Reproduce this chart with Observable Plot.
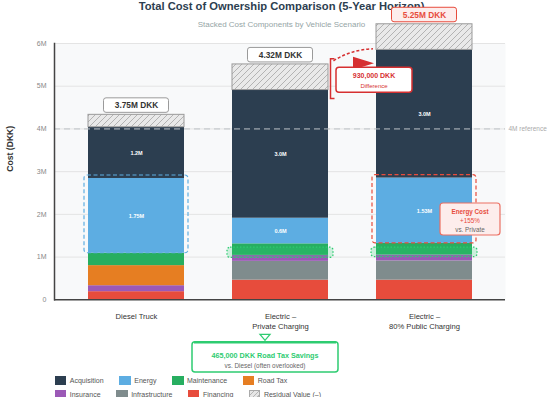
<!DOCTYPE html>
<html><head><meta charset="utf-8">
<script src="https://cdn.jsdelivr.net/npm/d3@7"></script>
<script src="https://cdn.jsdelivr.net/npm/@observablehq/plot@0.6"></script>
<style>
body{margin:0;background:#fff;font-family:"Liberation Sans",Arial,sans-serif;}
#wrap{position:relative;width:550px;height:397px;overflow:hidden;}
#title{position:absolute;left:0;top:0;width:563px;text-align:center;font-weight:bold;font-size:11.2px;line-height:13px;color:#2c3e50;}
#subtitle{position:absolute;left:0;top:19.7px;width:563px;text-align:center;font-size:8px;line-height:10px;color:#95a5a6;}
#chart{position:absolute;left:0;top:0;}
.lrow{position:absolute;left:54.7px;display:flex;column-gap:15.5px;font-size:7px;color:#555;}
.item{display:flex;align-items:center;height:9px;line-height:9px;}
.sw{width:11.6px;height:8.8px;margin-right:3.5px;box-sizing:border-box;}
</style></head>
<body>
<div id="wrap">
  <div id="title">Total Cost of Ownership Comparison (5-Year Horizon)</div>
  <div id="subtitle">Stacked Cost Components by Vehicle Scenario</div>
  <div id="chart"></div>
  <div class="lrow" id="row1" style="top:376.1px"></div>
  <div class="lrow" id="row2" style="top:390.2px"></div>
</div>
<script>
// ---- data ----
const scenarios = ["Diesel Truck", "Electric –\nPrivate Charging", "Electric –\n80% Public Charging"];
const components = ["Financing", "Infrastructure", "Insurance", "Road Tax", "Maintenance", "Energy", "Acquisition"];
const colors = ["#e74c3c", "#7f8c8d", "#9b59b6", "#e67e22", "#27ae60", "#5dade2", "#2c3e50"];
const financing = [0.19, 0.46, 0.46];
const infrastructure = [0, 0.44, 0.45];
const insurance = [0.14, 0.14, 0.14];
const roadTax = [0.47, 0, 0];
const maintenance = [0.29, 0.27, 0.27];
const energy = [1.75, 0.6, 1.53];
const acquisition = [1.2, 3.0, 3.0];
const residual = [0.29, 0.6, 0.6];
const energyLabels = ["1.75M", "0.6M", "1.53M"];
const acquisitionLabels = ["1.2M", "3.0M", "3.0M"];
const netLabels = ["3.75M DKK", "4.32M DKK", "5.25M DKK"];
const yTicks = [0, 1, 2, 3, 4, 5, 6];
const referenceLine = [4];
const roadTaxBoxLow = [null, 0.98, 1.0];
const roadTaxBoxHigh = [null, 1.22, 1.22];
const diffBracket = [4.70, 5.63];
const diffCalloutY = 5.14;
const energyCalloutY = 1.88;
const legendRow1 = ["Acquisition", "Energy", "Maintenance", "Road Tax"];
const legendRow2 = ["Insurance", "Infrastructure", "Financing", "Residual Value (–)"];

// ---- derived tables ----
const series = [financing, infrastructure, insurance, roadTax, maintenance, energy, acquisition];
const labelsBy = {Energy: energyLabels, Acquisition: acquisitionLabels};
const stacked = [];
scenarios.forEach((s, i) => components.forEach((c, j) =>
  stacked.push({scenario: s, component: c, value: series[j][i], label: (labelsBy[c] || [])[i] || ""})));
const gross = scenarios.map((s, i) => d3.sum(series, a => a[i]));
const totals = scenarios.map((s, i) => ({scenario: s, gross: gross[i], top: gross[i] + residual[i], text: netLabels[i]}));
const eBase = scenarios.map((s, i) => financing[i] + infrastructure[i] + insurance[i] + roadTax[i] + maintenance[i]);
const energyBox = scenarios.map((s, i) => ({scenario: s, y1: eBase[i], y2: eBase[i] + energy[i]}));
const roadBox = scenarios.map((s, i) => ({scenario: s, y1: roadTaxBoxLow[i], y2: roadTaxBoxHigh[i]})).filter(d => d.y1 != null);

const FONT = "'Liberation Sans', Arial, sans-serif";
const chart = Plot.plot({
  width: 550, height: 397,
  marginTop: 43, marginBottom: 97.7, marginLeft: 54, marginRight: 45,
  style: {background: "transparent", fontFamily: FONT, overflow: "visible"},
  x: {domain: scenarios, paddingInner: 0.3356, paddingOuter: 0.228, axis: null},
  y: {domain: [0, 6]},
  color: {domain: components, range: colors},
  marks: [
    Plot.frame({fill: "#f8f9fa", stroke: "none"}),
    Plot.gridY(yTicks.slice(1), {stroke: "#e4e4e4", strokeOpacity: 1}),
    Plot.axisY(yTicks, {tickSize: 0, tickPadding: 8, tickFormat: d => d === 0 ? "0" : d + "M", fontSize: 7, color: "#888", label: null}),
    Plot.text(["Cost (DKK)"], {text: d => d, frameAnchor: "left", dx: -44, rotate: -90, fontWeight: "bold", fontSize: 8.6, fill: "#333"}),
    Plot.barY(stacked, {x: "scenario", y: "value", fill: "component", order: components}),
    Plot.barY(totals, {x: "scenario", y1: "gross", y2: "top", fill: "url(#hatch)", stroke: "#9a9a9a", strokeWidth: 1}),
    Plot.text(stacked, Plot.stackY({x: "scenario", y: "value", z: "component", order: components, text: "label", fill: "white", fontSize: 5.5, fontWeight: "bold"})),
    Plot.barY(energyBox.filter((d, i) => i === 0), {x: "scenario", y1: "y1", y2: "y2", fill: "none", stroke: "#5dade2", strokeWidth: 1.2, strokeDasharray: "4,2.5", rx: 3, insetLeft: -4, insetRight: -4, insetTop: -3}),
    Plot.barY(energyBox.filter((d, i) => i === 2), {x: "scenario", y1: "y1", y2: "y2", fill: "none", stroke: "#e74c3c", strokeWidth: 1.2, strokeDasharray: "4,2.5", rx: 3, insetLeft: -4, insetRight: -4, insetTop: -3}),
    Plot.barY(roadBox, {x: "scenario", y1: "y1", y2: "y2", fill: "rgba(46,204,113,0.22)", stroke: "#2ecc71", strokeWidth: 1.3, strokeDasharray: "1.5,1.8", rx: 3, insetLeft: -5, insetRight: -5}),
    Plot.ruleY(referenceLine, {stroke: "#bdc3c7", strokeWidth: 1, strokeDasharray: "6,4"}),
    Plot.text(referenceLine, {y: d => d, text: d => `${d}M reference`, frameAnchor: "right", textAnchor: "start", dx: 3, fontSize: 6.5, fill: "#aaa"}),
    Plot.ruleY([0], {stroke: "#444", strokeWidth: 1.5}),
    Plot.frame({anchor: "left", stroke: "#444", strokeWidth: 1.5}),
    Plot.text(scenarios, {x: d => d, text: d => d, frameAnchor: "bottom", lineAnchor: "top", dy: 12, fontSize: 7.6, lineHeight: 1.34, fill: "#333"}),
    Plot.barY(totals.filter((d, i) => i < 2), {x: "scenario", y1: "top", y2: "top", insetTop: -16.5, insetBottom: 2, insetLeft: 15.5, insetRight: 15.5, fill: "white", stroke: "#9a9a9a", strokeWidth: 1, rx: 2.5}),
    Plot.barY(totals.filter((d, i) => i === 2), {x: "scenario", y1: "top", y2: "top", insetTop: -16.5, insetBottom: 2, insetLeft: 15.5, insetRight: 15.5, fill: "#fdedec", stroke: "#e74c3c", strokeWidth: 1, rx: 2.5}),
    Plot.text(totals.filter((d, i) => i < 2), {x: "scenario", y: "top", text: "text", dy: -9.3, fontSize: 8.3, fontWeight: "bold", fill: "#333"}),
    Plot.text(totals.filter((d, i) => i === 2), {x: "scenario", y: "top", text: "text", dy: -9.3, fontSize: 8.3, fontWeight: "bold", fill: "#e74c3c"})
  ]
});
document.getElementById("chart").appendChild(chart);

// ---- annotations positioned from the plot's own scales ----
const svg = d3.select(chart);
const defs = svg.insert("defs", ":first-child");
const pat = defs.append("pattern").attr("id", "hatch").attr("patternUnits", "userSpaceOnUse").attr("width", 6).attr("height", 6);
pat.append("rect").attr("width", 6).attr("height", 6).attr("fill", "#e9e9e9");
pat.append("path").attr("d", "M0,6L6,0M-1.5,1.5L1.5,-1.5M4.5,7.5L7.5,4.5").attr("stroke", "#a5a5a5").attr("stroke-width", 0.8);

const xs = chart.scale("x"), ys = chart.scale("y");
const bw = xs.bandwidth;
const X = s => xs.apply(s), Y = v => ys.apply(v);
const RED = "#e74c3c", DRED = "#d63031";
const g = svg.append("g").attr("font-family", FONT);

// difference bracket + arrow + callout
const bx = X(scenarios[1]) + bw + 2.5, yT = Y(diffBracket[1]), yB = Y(diffBracket[0]);
const xp = X(scenarios[2]);
g.append("path").attr("d", `M${bx + 4},${yT}H${bx}V${yB}H${bx + 4}`).attr("fill", "none").attr("stroke", DRED).attr("stroke-width", 1.5);
g.append("path").attr("d", `M${bx + 3},${yT + 2}Q${bx + 20},${yT - 9} ${xp - 3},${yT - 10}`).attr("fill", "none").attr("stroke", DRED).attr("stroke-width", 1.5).attr("stroke-dasharray", "3,2");
g.append("path").attr("d", `M${xp - 23},${yT - 2}L${xp - 2},${yT + 4.5}L${xp - 23},${yT + 11}Z`).attr("fill", DRED);
const dcx = xp - 2, dcy = Y(diffCalloutY);
g.append("rect").attr("x", dcx - 38).attr("y", dcy - 12.5).attr("width", 76).attr("height", 25).attr("rx", 3)
  .attr("fill", "white").attr("stroke", DRED).attr("stroke-width", 1.5);
g.append("text").attr("x", dcx).attr("y", dcy - 4.5).attr("text-anchor", "middle").attr("dominant-baseline", "central")
  .attr("font-size", 7).attr("font-weight", "bold").attr("fill", DRED).text("930,000 DKK");
g.append("text").attr("x", dcx).attr("y", dcy + 6.3).attr("text-anchor", "middle").attr("dominant-baseline", "central")
  .attr("font-size", 6).attr("fill", DRED).text("Difference");

// energy cost callout
const ecx = X(scenarios[2]) + bw - 2, ecy = Y(energyCalloutY);
g.append("rect").attr("x", ecx - 30).attr("y", ecy - 16).attr("width", 60).attr("height", 32).attr("rx", 3)
  .attr("fill", "#fdedec").attr("stroke", "#ec7063").attr("stroke-width", 1.2);
[["Energy Cost", -7.6, "bold", RED], ["+155%", 1.4, "normal", RED], ["vs. Private", 11, "normal", "#666"]].forEach(([t, dy, fw, c]) =>
  g.append("text").attr("x", ecx).attr("y", ecy + dy).attr("text-anchor", "middle").attr("dominant-baseline", "central")
    .attr("font-size", 6.3).attr("font-weight", fw).attr("fill", c).text(t));

// road tax savings callout
const gcx = X(scenarios[1]) + bw / 2 - 15, b0 = Y(0);
g.append("path").attr("d", `M${gcx - 5},${b0 + 35}L${gcx + 5},${b0 + 35}L${gcx},${b0 + 41}Z`).attr("fill", "white").attr("stroke", "#2ecc71").attr("stroke-width", 1.3);
g.append("rect").attr("x", gcx - 73).attr("y", b0 + 42.5).attr("width", 146).attr("height", 30.2).attr("rx", 3)
  .attr("fill", "white").attr("stroke", "#2ecc71").attr("stroke-width", 1.5);
g.append("path").attr("d", `M${gcx - 71},${b0 + 43.3}H${gcx + 71}`).attr("stroke", "#2ecc71").attr("stroke-width", 2);
g.append("text").attr("x", gcx).attr("y", b0 + 55.9).attr("text-anchor", "middle").attr("dominant-baseline", "central")
  .attr("font-size", 7.2).attr("font-weight", "bold").attr("fill", "#2ecc71").text("465,000 DKK Road Tax Savings");
g.append("text").attr("x", gcx).attr("y", b0 + 65.8).attr("text-anchor", "middle").attr("dominant-baseline", "central")
  .attr("font-size", 6.4).attr("fill", "#666").text("vs. Diesel (often overlooked)");

// ---- legend ----
const colorOf = c => colors[components.indexOf(c)];
function addRow(id, names) {
  const row = document.getElementById(id);
  names.forEach(n => {
    const it = document.createElement("div"); it.className = "item";
    const sw = document.createElement("div"); sw.className = "sw";
    if (colorOf(n)) sw.style.background = colorOf(n);
    else { sw.style.background = "repeating-linear-gradient(135deg,#e6e6e6 0 2.5px,#b5b5b5 2.5px 3.3px)"; sw.style.border = "1px solid #aaa"; }
    const tx = document.createElement("span"); tx.textContent = n;
    it.appendChild(sw); it.appendChild(tx); row.appendChild(it);
  });
}
addRow("row1", legendRow1);
addRow("row2", legendRow2);
</script>
</body></html>
